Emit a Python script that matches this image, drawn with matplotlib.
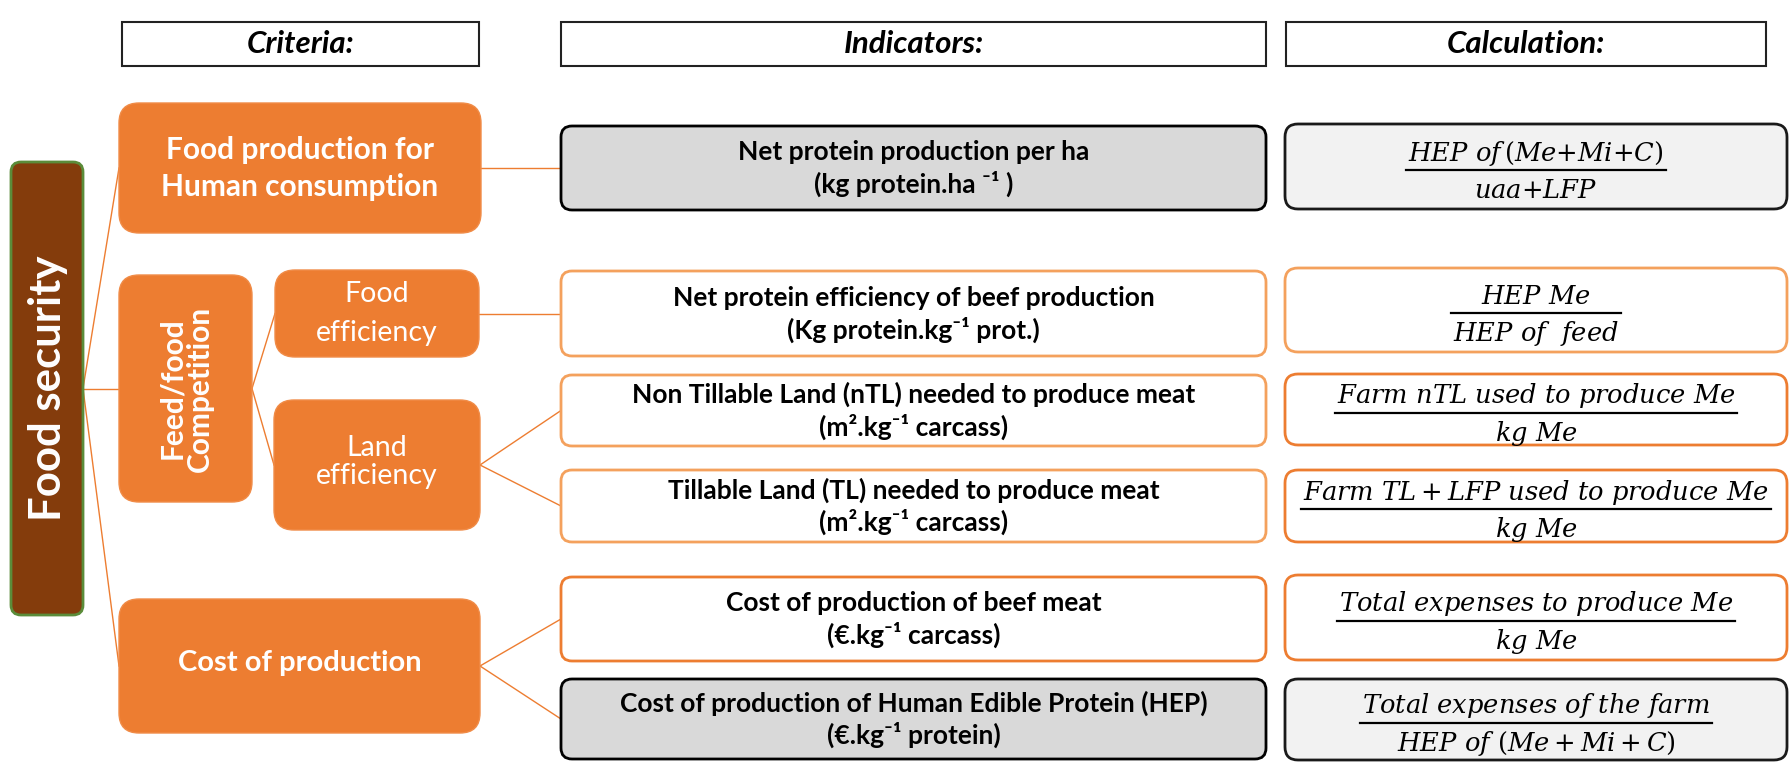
import matplotlib.pyplot as plt
from matplotlib.patches import FancyBboxPatch, Rectangle

plt.rcParams['font.family'] = ['Lato', 'DejaVu Sans']
plt.rcParams['mathtext.fontset'] = 'dejavuserif'

W, H = 1792, 762

ORANGE = '#ED7D31'
LIGHT_OR = '#F4A15D'
BROWN = '#843C0C'
GREEN = '#5B8C3A'

# header row
headers = ['Criteria:', 'Indicators:', 'Calculation:']
header_x = [(122, 479), (561, 1266), (1286, 1766)]
header_y = (22, 66)

# criteria tree (x0, y0, x1, y1)
crit = {
    'fs': (11, 162, 83, 615),
    'fp': (119, 103, 481, 233),
    'ff': (119, 275, 252, 502),
    'fe': (275, 270, 479, 357),
    'le': (274, 400, 480, 530),
    'cp': (119, 599, 480, 733),
}

# indicators
ind_titles = [
    'Net protein production per ha',
    'Net protein efficiency of beef production',
    'Non Tillable Land (nTL) needed to produce meat',
    'Tillable Land (TL) needed to produce meat',
    'Cost of production of beef meat',
    'Cost of production of Human Edible Protein (HEP)',
]
ind_units = [
    '(kg protein.ha \u207b\u00b9 )',
    '(Kg protein.kg\u207b\u00b9 prot.)',
    '(m\u00b2.kg\u207b\u00b9 carcass)',
    '(m\u00b2.kg\u207b\u00b9 carcass)',
    '(\u20ac.kg\u207b\u00b9 carcass)',
    '(\u20ac.kg\u207b\u00b9 protein)',
]
ind_x = (561, 1266)
ind_y = [(126, 210), (271, 356), (375, 446), (470, 542), (577, 661), (679, 759)]
ind_style = ['grey', 'light', 'light', 'light', 'dark', 'grey']

# calculations
calc_num = [
    r'$HEP\ of\,(Me{+}Mi{+}C)$',
    r'$HEP\ Me$',
    r'$Farm\ nTL\ used\ to\ produce\ Me$',
    r'$Farm\ TL+LFP\ used\ to\ produce\ Me$',
    r'$Total\ expenses\ to\ produce\ Me$',
    r'$Total\ expenses\ of\ the\ farm$',
]
calc_den = [
    r'$uaa{+}LFP$',
    r'$HEP\ of\ \ feed$',
    r'$kg\ Me$',
    r'$kg\ Me$',
    r'$kg\ Me$',
    r'$HEP\ of\ (Me+Mi+C)$',
]
calc_x = (1285, 1787)
calc_y = [(124, 209), (268, 352), (374, 445), (470, 542), (575, 660), (679, 760)]
calc_style = ['grey', 'light', 'dark', 'dark', 'dark', 'grey']

# connectors: source box -> target box
links = [('fs', 'fp'), ('fs', 'ff'), ('fs', 'cp'),
         ('ff', 'fe'), ('ff', 'le'),
         ('fp', 0), ('fe', 1), ('le', 2), ('le', 3), ('cp', 4), ('cp', 5)]

styles = {
    'grey': dict(fc='#D9D9D9', ec='black'),
    'light': dict(fc='white', ec=LIGHT_OR),
    'dark': dict(fc='white', ec=ORANGE),
}
calc_styles = {
    'grey': dict(fc='#F2F2F2', ec='#1a1a1a'),
    'light': dict(fc='white', ec=LIGHT_OR),
    'dark': dict(fc='white', ec=ORANGE),
}


def rbox(ax, x0, y0, x1, y1, r, fc, ec, lw):
    p = FancyBboxPatch((x0, y0), x1 - x0, y1 - y0,
                       boxstyle=f'round,pad=0,rounding_size={r}',
                       fc=fc, ec=ec, lw=lw, zorder=2)
    ax.add_patch(p)


fig = plt.figure(figsize=(W / 100, H / 100), dpi=100)
ax = fig.add_axes([0, 0, 1, 1])
ax.set_xlim(0, W)
ax.set_ylim(H, 0)
ax.axis('off')

# headers
for txt, (x0, x1) in zip(headers, header_x):
    ax.add_patch(Rectangle((x0, header_y[0]), x1 - x0, header_y[1] - header_y[0],
                           fc='white', ec='#222222', lw=1.5))
    ax.text((x0 + x1) / 2, sum(header_y) / 2, txt, ha='center', va='center',
            fontsize=22.5, fontweight='bold', fontstyle='italic')


def left_mid(key):
    if isinstance(key, int):
        return ind_x[0], sum(ind_y[key]) / 2
    b = crit[key]
    return b[0], (b[1] + b[3]) / 2


def right_mid(key):
    b = crit[key]
    return b[2], (b[1] + b[3]) / 2


for a, b in links:
    (xa, ya), (xb, yb) = right_mid(a), left_mid(b)
    ax.plot([xa, xb], [ya, yb], color=ORANGE, lw=1, zorder=1)

# criteria boxes
x0, y0, x1, y1 = crit['fs']
rbox(ax, x0, y0, x1, y1, 10, BROWN, GREEN, 2)
ax.text((x0 + x1) / 2 + 1, (y0 + y1) / 2, 'Food security', rotation=90,
        ha='center', va='center', color='white', fontsize=31.5, fontweight='bold', zorder=3)

for k in ['fp', 'ff', 'fe', 'le', 'cp']:
    x0, y0, x1, y1 = crit[k]
    rbox(ax, x0, y0, x1, y1, 20, ORANGE, '#F08C48', 1)

cx = lambda k: (crit[k][0] + crit[k][2]) / 2
cy = lambda k: (crit[k][1] + crit[k][3]) / 2

ax.text(cx('fp'), cy('fp') - 18, 'Food production for', ha='center', va='center',
        color='white', fontsize=21.5, fontweight='bold', zorder=3)
ax.text(cx('fp'), cy('fp') + 19, 'Human consumption', ha='center', va='center',
        color='white', fontsize=21.5, fontweight='bold', zorder=3)
ax.text(cx('ff') - 13, cy('ff'), 'Feed/food', rotation=90, ha='center', va='center',
        color='white', fontsize=21.5, fontweight='bold', zorder=3)
ax.text(cx('ff') + 14, cy('ff'), 'Competition', rotation=90, ha='center', va='center',
        color='white', fontsize=21.5, fontweight='bold', zorder=3)
ax.text(cx('fe'), cy('fe') - 19, 'Food', ha='center', va='center',
        color='white', fontsize=20.5, zorder=3)
ax.text(cx('fe'), cy('fe') + 20, 'efficiency', ha='center', va='center',
        color='white', fontsize=20.5, zorder=3)
ax.text(cx('le'), cy('le') - 17, 'Land', ha='center', va='center',
        color='white', fontsize=20.5, zorder=3)
ax.text(cx('le'), cy('le') + 11, 'efficiency', ha='center', va='center',
        color='white', fontsize=20.5, zorder=3)
ax.text(cx('cp'), cy('cp') - 3, 'Cost of production', ha='center', va='center',
        color='white', fontsize=21, fontweight='bold', zorder=3)

# indicator boxes
for title, unit, (y0, y1), st in zip(ind_titles, ind_units, ind_y, ind_style):
    rbox(ax, ind_x[0], y0, ind_x[1], y1, 11, lw=2, **styles[st])
    xm, ym = sum(ind_x) / 2, (y0 + y1) / 2
    ax.text(xm, ym - 16, title, ha='center', va='center', fontsize=19,
            fontweight='bold', zorder=3)
    ax.text(xm, ym + 16, unit, ha='center', va='center', fontsize=19,
            fontweight='bold', zorder=3)

# calculation boxes
frac = []
for num, den, (y0, y1), st in zip(calc_num, calc_den, calc_y, calc_style):
    rbox(ax, calc_x[0], y0, calc_x[1], y1, 13, lw=2, **calc_styles[st])
    xm = sum(calc_x) / 2
    yl = (y0 + y1) / 2 + 3
    tn = ax.text(xm, yl - 9, num, ha='center', va='baseline', fontsize=18.5, zorder=3)
    td = ax.text(xm, yl + 28, den, ha='center', va='baseline', fontsize=18.5, zorder=3)
    frac.append((tn, td, yl))

fig.canvas.draw()
inv = ax.transData.inverted()
for tn, td, yl in frac:
    xs = []
    for t in (tn, td):
        bb = t.get_window_extent()
        xs += [inv.transform((bb.x0, bb.y0))[0], inv.transform((bb.x1, bb.y0))[0]]
    ax.plot([min(xs) - 2, max(xs) + 2], [yl, yl], color='black', lw=1.6, zorder=3)

fig.savefig('out.png', dpi=100)
